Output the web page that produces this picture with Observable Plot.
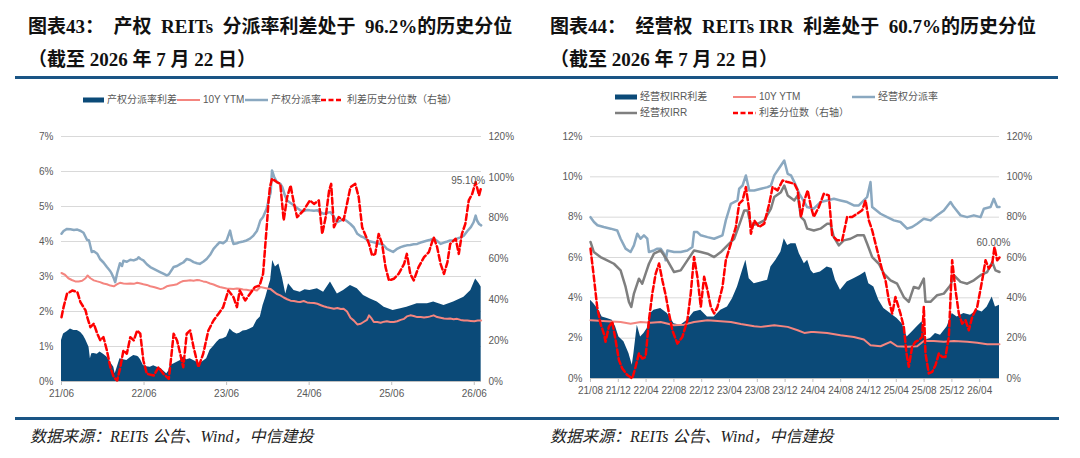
<!DOCTYPE html>
<html>
<head>
<meta charset="utf-8">
<script src="https://cdn.jsdelivr.net/npm/d3@7"></script>
<script src="https://cdn.jsdelivr.net/npm/@observablehq/plot@0.6"></script>
<style>
  html, body { margin: 0; padding: 0; background: #fff; }
  body { width: 1080px; height: 458px; position: relative; overflow: hidden; }
  .abs { position: absolute; white-space: pre; }
  .title { font-family: "Liberation Serif", "Noto Sans CJK SC", serif; font-weight: bold; font-size: 19px; line-height: 22px; color: #111; }
  .rule { position: absolute; height: 3px; background: #1a5585; }
  .src { font-family: "Liberation Serif", "Noto Sans CJK SC", serif; font-style: italic; font-size: 16px; line-height: 20px; color: #222; }
  .lg { font-family: "Liberation Sans", "Noto Sans CJK SC", sans-serif; font-size: 10px; line-height: 12px; color: #595959; }
  .chart { position: absolute; top: 126px; }
</style>
</head>
<body>
<div class="abs title" style="left:28px;top:16px">图表43：  产权  REITs  分派率利差处于  96.2%的历史分位</div>
<div class="abs title" style="left:28px;top:49px">（截至 2026 年 7 月 22 日）</div>
<div class="abs title" style="left:550px;top:16px">图表44：  经营权  REITs IRR  利差处于  60.7%的历史分位</div>
<div class="abs title" style="left:550px;top:49px">（截至 2026 年 7 月 22 日）</div>
<div class="rule" style="left:15px;top:76px;width:1043px"></div>
<div class="rule" style="left:15px;top:417px;width:1044px"></div>
<div class="abs src" style="left:30px;top:427px">数据来源：REITs 公告、Wind，中信建投</div>
<div class="abs src" style="left:550px;top:427px">数据来源：REITs 公告、Wind，中信建投</div>
<div id="legends"></div>
<div id="left" class="chart" style="left:0px"></div>
<div id="right" class="chart" style="left:540px"></div>
<script>
// ---------- DATA (x = months since first tick, value) ----------
// Left chart: 产权 REITs (months since 2021-06)
const leftXTicks = [0, 12, 24, 36, 48, 60];
const leftXLabels = ["21/06", "22/06", "23/06", "24/06", "25/06", "26/06"];
const leftYTicks = [0, 1, 2, 3, 4, 5, 6, 7];
const leftRightTicks = [0, 20, 40, 60, 80, 100, 120];

const leftRate = [[0,4.22],[0.3,4.3],[0.8,4.36],[1.3,4.35],[1.8,4.33],[2.3,4.34],[2.8,4.3],[3.2,4.25],[3.7,4.05],[4.0,4.03],[4.4,3.7],[4.7,3.72],[5.2,3.65],[5.6,3.5],[6.1,3.4],[6.6,3.27],[7.1,3.15],[7.3,3.08],[7.6,2.95],[7.8,2.84],[8.1,3.1],[8.5,3.38],[8.8,3.3],[9.0,3.45],[9.5,3.42],[10.0,3.48],[10.5,3.46],[11.0,3.5],[11.2,3.55],[11.5,3.5],[11.9,3.46],[12.4,3.35],[12.9,3.27],[13.4,3.22],[13.9,3.17],[14.4,3.12],[14.8,3.08],[15.3,3.03],[15.6,3.06],[16.3,3.27],[16.8,3.3],[17.3,3.36],[17.7,3.4],[18.2,3.5],[18.7,3.47],[19.2,3.41],[19.7,3.38],[20.1,3.36],[20.6,3.42],[21.1,3.5],[21.6,3.62],[22.1,3.79],[22.6,3.9],[23.0,3.98],[23.5,3.95],[24.0,4.03],[24.5,4.31],[24.8,4.05],[25.0,3.93],[25.5,3.95],[25.9,3.98],[26.4,4.0],[26.9,4.03],[27.4,4.08],[27.9,4.17],[28.4,4.3],[28.6,4.41],[28.9,4.6],[29.3,4.7],[29.8,4.93],[30.1,5.17],[30.4,5.4],[30.6,6.03],[30.9,5.85],[31.3,5.7],[31.8,5.65],[32.1,5.55],[32.5,5.3],[32.8,5.17],[33.3,5.1],[33.8,5.03],[34.3,4.95],[34.7,4.89],[35.2,4.87],[35.7,4.9],[36.1,4.89],[36.7,4.88],[37.2,4.89],[37.7,4.83],[38.1,4.79],[38.6,4.82],[39.1,4.84],[39.6,4.7],[40.1,4.55],[40.6,4.6],[41.0,4.65],[41.5,4.58],[42.0,4.5],[42.5,4.4],[43.0,4.22],[43.5,4.15],[43.9,4.12],[44.4,4.05],[44.9,4.0],[45.4,3.98],[45.9,3.95],[46.4,3.93],[46.9,3.88],[47.3,3.79],[47.8,3.74],[48.2,3.7],[48.7,3.78],[49.3,3.84],[49.8,3.87],[50.2,3.89],[50.7,3.9],[51.2,3.92],[51.7,3.93],[52.2,3.97],[52.7,4.0],[53.2,4.03],[53.6,4.05],[54.1,4.08],[54.6,4.02],[55.1,3.93],[55.6,3.97],[56.1,4.0],[56.5,4.03],[57.0,4.03],[57.5,4.08],[58.0,4.12],[58.5,4.17],[59.0,4.3],[59.5,4.41],[59.9,4.55],[60.2,4.74],[60.4,4.6],[60.7,4.5],[61.0,4.46]];

const leftYtm = [[0,3.1],[0.5,3.05],[1,2.95],[1.5,2.9],[2,2.86],[2.5,2.86],[3,2.88],[3.5,2.95],[3.8,3.03],[4.2,2.95],[4.7,2.89],[5.2,2.86],[5.6,2.84],[6.1,2.8],[6.6,2.78],[7.1,2.74],[7.6,2.72],[8.1,2.78],[8.5,2.82],[9.0,2.8],[9.5,2.79],[10.0,2.8],[10.5,2.79],[11.0,2.82],[11.5,2.8],[11.9,2.78],[12.4,2.76],[12.9,2.72],[13.4,2.7],[13.9,2.67],[14.4,2.64],[14.8,2.66],[15.3,2.72],[15.8,2.74],[16.3,2.76],[16.8,2.78],[17.3,2.84],[17.7,2.87],[18.2,2.88],[18.7,2.89],[19.2,2.88],[19.7,2.9],[20.1,2.89],[20.6,2.86],[21.1,2.84],[21.6,2.8],[22.1,2.77],[22.6,2.73],[23.0,2.7],[23.5,2.68],[24.0,2.66],[24.5,2.65],[25.0,2.64],[25.5,2.66],[25.9,2.65],[26.4,2.63],[26.9,2.62],[27.4,2.6],[27.9,2.62],[28.4,2.6],[28.9,2.7],[29.4,2.68],[29.9,2.66],[30.4,2.64],[30.9,2.56],[31.3,2.5],[31.8,2.46],[32.3,2.4],[32.8,2.35],[33.3,2.31],[33.8,2.3],[34.3,2.28],[34.7,2.27],[35.2,2.3],[35.7,2.26],[36.1,2.25],[36.7,2.24],[37.2,2.22],[37.7,2.18],[38.1,2.15],[38.6,2.12],[39.1,2.1],[39.6,2.08],[40.1,2.1],[40.6,2.07],[41.0,2.08],[41.5,2.0],[42.0,1.82],[42.5,1.74],[43.0,1.63],[43.5,1.65],[43.9,1.7],[44.4,1.76],[44.7,1.89],[45.0,1.82],[45.4,1.7],[45.9,1.7],[46.4,1.68],[46.9,1.71],[47.3,1.72],[47.8,1.7],[48.3,1.7],[48.8,1.72],[49.3,1.76],[49.8,1.79],[50.2,1.86],[50.7,1.89],[51.2,1.87],[51.7,1.84],[52.2,1.84],[52.7,1.83],[53.2,1.84],[53.6,1.86],[54.1,1.89],[54.6,1.84],[55.1,1.82],[55.6,1.8],[56.1,1.79],[56.5,1.8],[57.0,1.78],[57.5,1.79],[58.0,1.76],[58.5,1.74],[59.0,1.74],[59.5,1.73],[60.0,1.72],[60.5,1.74],[61.0,1.74]];

const leftSpread = [[0,1.17],[0.3,1.36],[0.8,1.42],[1.3,1.5],[1.8,1.46],[2.3,1.46],[2.8,1.4],[3.2,1.31],[3.5,1.2],[4.0,0.98],[4.2,0.65],[4.4,0.79],[4.7,0.8],[5.2,0.78],[5.6,0.84],[6.1,0.78],[6.6,0.7],[7.1,0.55],[7.6,0.41],[7.8,0.22],[8.1,0.4],[8.5,0.65],[9.0,0.62],[9.5,0.6],[10.0,0.68],[10.5,0.74],[11.0,0.72],[11.2,0.7],[11.5,0.62],[11.9,0.46],[12.4,0.42],[12.9,0.41],[13.4,0.45],[13.9,0.41],[14.4,0.38],[14.8,0.31],[15.3,0.22],[15.6,0.3],[15.8,0.46],[16.3,0.5],[16.8,0.55],[17.3,0.6],[17.7,0.7],[18.2,0.62],[18.7,0.65],[19.2,0.6],[19.7,0.55],[20.1,0.5],[20.6,0.58],[21.1,0.65],[21.6,0.89],[22.1,1.0],[22.6,1.12],[23.0,1.2],[23.5,1.22],[24.0,1.27],[24.5,1.5],[25.0,1.41],[25.5,1.36],[25.9,1.38],[26.4,1.44],[26.9,1.46],[27.4,1.5],[27.9,1.55],[28.4,1.74],[28.9,1.84],[29.3,2.17],[29.7,2.41],[30.1,2.7],[30.4,2.89],[30.7,3.46],[31.1,3.27],[31.6,3.36],[32.1,2.98],[32.6,2.5],[33.0,2.79],[33.8,2.6],[34.7,2.55],[35.4,2.62],[36.1,2.6],[37.2,2.65],[38.1,2.55],[39.1,2.84],[40.1,2.5],[41.0,2.6],[42.0,2.74],[43.0,2.65],[43.9,2.46],[44.9,2.36],[45.9,2.27],[46.9,2.12],[48.2,2.03],[49.3,2.08],[50.2,2.12],[51.7,2.22],[53.2,2.22],[54.1,2.27],[55.6,2.17],[57.0,2.27],[58.5,2.41],[59.5,2.6],[60.2,2.93],[60.7,2.8],[61.0,2.7]];

// right-axis values (%)
const leftPct = [[0,31.5],[0.3,36.4],[0.8,43],[1.3,44],[1.55,44.6],[2.3,43.8],[2.75,38.9],[3.5,34.8],[3.7,32],[4.2,26.6],[4.7,28.3],[5.2,23.4],[5.65,20.1],[6.1,21.7],[6.6,15.2],[7.1,7],[7.6,2.1],[8.1,0.5],[8.55,7],[9.0,15.2],[9.5,13.6],[10.0,21.7],[10.5,20.1],[11.0,25],[11.45,23.4],[11.9,10.3],[12.4,3.8],[13.4,2.9],[14.1,7],[14.8,3.8],[15.6,1.3],[16.0,13.6],[16.3,23.4],[16.8,20.1],[17.25,13.6],[17.7,7],[18.2,23.4],[18.7,25],[19.2,16.8],[19.9,7],[20.6,13.6],[21.35,25],[22.1,29.9],[22.8,33.1],[23.5,36.4],[24.25,44.6],[25.0,41.3],[25.5,36.4],[25.9,44.6],[26.7,39.7],[27.4,43],[28.1,46.2],[28.8,47],[29.3,52.7],[29.6,65.8],[29.9,78.9],[30.1,88.7],[30.3,95.2],[30.6,99.3],[31.3,97.7],[31.8,96.8],[32.3,78.9],[32.8,90.3],[33.3,96],[33.8,87],[34.25,80.5],[34.7,82.1],[35.2,83.8],[36.1,88.7],[36.7,87],[37.4,88.7],[37.9,72.3],[38.4,80.5],[38.9,93.6],[39.2,96.8],[39.6,75.6],[40.3,80.5],[41.0,78.9],[41.5,87],[42.0,95.2],[42.7,96.8],[43.2,90.3],[43.7,75.6],[44.2,71.5],[44.7,67.4],[45.15,61.7],[45.6,62.5],[46.1,72.3],[46.6,67.4],[47.1,56],[47.6,49.5],[48.3,50.3],[49.0,52.7],[49.8,57.6],[50.2,62.5],[50.7,52.7],[51.2,49.5],[51.9,56],[52.7,60.9],[53.4,63.4],[54.1,70.7],[54.6,65.8],[55.1,57.6],[55.6,52.7],[56.1,58.5],[56.5,67.4],[57.3,69.9],[57.75,62.5],[58.2,72.3],[58.7,77.2],[59.2,88.7],[59.7,91.9],[60.2,97.7],[60.7,91.1],[61.0,95.1]];
const leftPctLabel = "95.10%";

// Right chart: 经营权 REITs (months since 2021-08)
const rightXTicks = [0, 4, 8, 12, 16, 20, 24, 28, 32, 36, 40, 44, 48, 52, 56];
const rightXLabels = ["21/08","21/12","22/04","22/08","22/12","23/04","23/08","23/12","24/04","24/08","24/12","25/04","25/08","25/12","26/04"];
const rightYTicks = [0, 2, 4, 6, 8, 10, 12];
const rightRightTicks = [0, 20, 40, 60, 80, 100, 120];

const rightRate = [[0,8.0],[0.5,7.76],[1.0,7.6],[1.9,7.51],[2.9,7.43],[3.85,7.34],[4.33,6.93],[5.05,6.44],[5.77,6.27],[6.25,6.6],[6.73,7.18],[7.21,6.93],[7.69,7.1],[8.17,6.93],[8.41,6.27],[9.13,6.35],[9.62,6.44],[10.1,6.44],[10.58,6.19],[10.82,5.86],[11.06,6.35],[12.02,6.27],[12.98,6.27],[13.94,6.35],[14.66,6.52],[14.9,7.26],[15.38,7.26],[15.87,7.1],[16.83,7.01],[17.79,6.93],[18.99,7.1],[19.47,7.84],[20.19,8.66],[21.15,8.83],[21.39,9.41],[21.88,9.57],[22.36,10.07],[22.84,9.32],[23.56,9.32],[24.52,9.41],[25.48,9.49],[25.96,9.57],[26.44,10.07],[27.4,10.56],[27.88,10.81],[28.37,10.15],[28.85,10.07],[29.33,9.74],[30.05,9.16],[30.77,8.75],[31.17,8.5],[32.13,8.42],[33.09,8.75],[34.05,8.83],[35.01,8.91],[35.97,8.83],[36.93,8.75],[37.89,8.58],[38.61,8.58],[39.33,8.83],[39.81,9.0],[40.29,9.74],[40.53,8.5],[41.73,8.17],[42.69,8.0],[43.65,7.84],[44.6,7.76],[45.56,7.43],[46.28,7.51],[47.0,7.67],[47.96,7.92],[48.92,7.84],[49.88,8.09],[50.84,8.33],[51.8,8.75],[52.28,8.5],[53.24,8.09],[54.2,8.0],[55.16,8.09],[56.12,8.0],[56.6,8.42],[57.56,8.5],[58.03,8.91],[58.51,8.5],[58.85,8.5]];

const rightIrr = [[0,6.77],[0.48,6.27],[1.44,6.02],[2.4,5.86],[3.37,5.69],[4.33,5.36],[5.05,4.54],[5.53,3.8],[5.87,3.55],[6.25,4.21],[6.97,4.95],[7.45,4.7],[7.93,5.2],[8.41,5.69],[9.13,6.19],[10.1,6.35],[11.06,5.86],[12.02,5.28],[12.98,5.36],[13.94,5.86],[14.9,6.35],[15.87,6.27],[16.83,6.19],[17.79,6.02],[18.75,6.27],[19.71,6.6],[20.67,6.93],[21.63,7.84],[22.12,8.33],[22.6,8.33],[23.08,7.59],[24.04,7.67],[25.0,7.84],[25.96,8.42],[26.44,9.0],[27.4,9.24],[27.88,9.57],[28.37,9.08],[29.33,8.83],[29.81,9.08],[30.29,8.0],[30.77,7.84],[31.17,7.43],[32.13,7.34],[33.09,7.43],[34.05,7.67],[34.53,7.67],[35.01,7.01],[35.73,6.6],[36.45,6.85],[37.41,6.93],[38.37,7.1],[39.33,7.1],[39.81,6.68],[40.53,6.02],[41.49,5.69],[42.21,5.2],[43.17,4.87],[44.12,4.7],[45.08,4.04],[45.8,3.8],[46.52,4.54],[47.24,4.46],[47.96,4.95],[48.2,3.8],[48.92,3.8],[49.88,4.13],[50.84,4.21],[51.8,4.62],[52.28,5.12],[53.24,4.79],[54.2,4.7],[55.16,4.87],[56.12,5.12],[57.08,5.28],[57.8,5.78],[58.27,5.36],[58.85,5.28]];

const rightYtm = [[0,2.89],[2.4,2.84],[4.33,2.8],[5.77,2.72],[7.21,2.8],[8.65,2.77],[10.1,2.8],[12.02,2.64],[13.46,2.67],[14.9,2.8],[16.83,2.89],[18.75,2.84],[20.19,2.8],[21.63,2.7],[23.56,2.59],[24.52,2.56],[26.44,2.64],[28.37,2.56],[29.81,2.39],[30.77,2.26],[31.73,2.3],[32.13,2.31],[34.05,2.26],[35.97,2.15],[37.89,2.06],[39.33,1.93],[40.29,1.65],[41.73,1.6],[43.17,1.82],[44.12,1.6],[45.56,1.57],[47.0,1.6],[47.96,1.86],[49.4,1.86],[50.84,1.82],[52.28,1.86],[54.2,1.82],[55.64,1.77],[57.08,1.7],[58.85,1.7]];

const rightSpread = [[0,3.88],[0.48,3.71],[1.2,3.38],[1.68,3.05],[2.4,2.97],[3.13,2.89],[3.61,2.56],[4.09,2.06],[4.81,1.82],[5.53,1.24],[6.01,0.66],[6.25,1.24],[6.73,2.64],[7.21,2.06],[7.69,2.23],[8.17,2.48],[8.65,3.22],[9.13,3.38],[10.1,3.47],[11.06,3.22],[12.02,2.72],[12.98,2.64],[13.94,2.89],[14.9,3.3],[15.87,3.38],[16.83,3.05],[17.79,3.05],[18.75,3.38],[19.71,3.55],[20.43,3.96],[21.15,4.54],[21.88,5.36],[22.36,5.86],[22.84,4.95],[23.56,4.7],[24.52,4.79],[25.48,4.87],[25.96,5.53],[26.68,5.86],[27.4,6.27],[27.88,6.93],[28.37,6.6],[28.85,6.68],[29.57,6.68],[30.05,6.19],[30.77,5.69],[31.25,5.86],[31.73,5.36],[32.13,5.2],[33.09,5.28],[34.05,5.53],[34.77,5.45],[35.25,4.87],[35.97,4.37],[36.93,4.79],[37.89,4.95],[38.85,5.12],[39.57,5.28],[40.05,4.7],[40.77,4.54],[41.49,3.88],[42.21,3.47],[43.17,3.22],[44.12,2.97],[44.84,2.72],[45.56,2.06],[46.28,2.31],[47.0,2.56],[47.72,2.81],[48.2,1.9],[48.92,1.98],[49.64,2.23],[50.36,2.15],[51.32,2.56],[52.04,3.22],[52.76,3.05],[53.72,3.22],[54.68,3.14],[55.64,3.38],[56.36,3.3],[57.08,3.55],[57.8,4.04],[58.27,3.55],[58.85,3.63]];

const rightPct = [[0,64.4],[0.48,50.4],[0.96,35.5],[1.44,27.2],[1.92,22.3],[2.16,18.2],[2.64,25.6],[3.13,28.1],[3.61,19],[4.09,9.1],[4.57,5],[5.29,1.7],[6.01,0],[6.49,5.8],[6.97,12.4],[7.45,9.9],[7.93,10.7],[8.41,28.9],[8.89,42.1],[9.38,52],[9.86,57],[10.34,48.7],[10.82,41.3],[11.3,32.2],[11.78,23.9],[12.5,17.3],[13.22,20.6],[13.94,28.9],[14.42,42.1],[14.9,60.3],[15.38,50.4],[15.87,35.5],[16.35,50.4],[16.83,43.8],[17.31,35.5],[17.79,32.2],[18.27,35.5],[18.99,45.4],[19.47,58.6],[20.19,66.9],[20.91,75.1],[21.39,86.7],[21.88,88.3],[22.36,94.9],[22.84,83.4],[23.08,71.8],[23.56,78.4],[24.28,75.1],[25.0,76.8],[25.72,86.7],[26.2,94.9],[26.92,93.3],[27.64,98.2],[28.37,97.4],[29.33,96.6],[29.81,93.3],[30.29,80.1],[30.77,88.3],[31.25,93.3],[31.73,85],[32.13,80.1],[32.85,85],[33.57,91.6],[34.29,90.8],[34.77,71],[35.49,68.5],[36.21,68.5],[36.93,80.1],[37.65,80.1],[38.37,81.7],[39.09,83.4],[39.57,88.3],[40.05,78.4],[40.53,73.5],[41.25,63.6],[41.97,53.7],[42.45,48.7],[42.93,38.8],[43.41,32.2],[43.88,40.4],[44.6,32.2],[45.08,25.6],[45.47,12.4],[45.8,5.8],[46.28,15.7],[46.76,18.2],[47.24,19],[47.72,20.6],[47.96,35.5],[48.2,12.4],[48.68,2.5],[49.16,3.3],[49.64,6.6],[50.12,12.4],[50.6,10.7],[51.08,10.7],[51.56,20.6],[52.04,58.6],[52.52,43.8],[53.0,32.2],[53.48,27.2],[53.96,28.9],[54.44,23.9],[54.92,30.5],[55.64,35.5],[56.36,48.7],[56.84,58.6],[57.32,54.5],[57.8,57],[58.13,65.2],[58.51,58.6],[58.85,60.0]];
const rightPctLabel = "60.00%";

// ---------- STYLE ----------
const C = { navy: "#0b4a78", pink: "#f4857f", blue: "#8aa8c0", gray: "#7f7f7f", red: "#ff0000", grid: "#d9d9d9", axis: "#bfbfbf", text: "#595959" };

// ---------- LEGENDS ----------
const legendItems = [
  { x: 83, y: 100, w: 21, kind: "rect", color: C.navy, label: "产权分派率利差", tx: 107 },
  { x: 177, y: 100, w: 23, kind: "line", color: C.pink, sw: 2, label: "10Y YTM", tx: 203 },
  { x: 245, y: 100, w: 23, kind: "line", color: C.blue, sw: 2.5, label: "产权分派率", tx: 271 },
  { x: 321, y: 100, w: 22, kind: "dash", color: C.red, sw: 2.5, label: "利差历史分位数（右轴）", tx: 347 },
  { x: 615, y: 97, w: 22, kind: "rect", color: C.navy, label: "经营权IRR利差", tx: 640 },
  { x: 733, y: 97, w: 23, kind: "line", color: C.pink, sw: 2, label: "10Y YTM", tx: 759 },
  { x: 852, y: 97, w: 23, kind: "line", color: C.blue, sw: 2.5, label: "经营权分派率", tx: 878 },
  { x: 615, y: 113, w: 22, kind: "line", color: C.gray, sw: 2.5, label: "经营权IRR", tx: 640 },
  { x: 733, y: 113, w: 23, kind: "dash", color: C.red, sw: 2.5, label: "利差分位数（右轴）", tx: 759 }
];
const lg = document.getElementById("legends");
for (const it of legendItems) {
  const s = document.createElementNS("http://www.w3.org/2000/svg", "svg");
  s.setAttribute("width", it.w); s.setAttribute("height", 8);
  s.style.position = "absolute"; s.style.left = it.x + "px"; s.style.top = (it.y - 4) + "px";
  if (it.kind === "rect") {
    s.innerHTML = `<rect x="0" y="1.5" width="${it.w}" height="5" fill="${it.color}"/>`;
  } else {
    s.innerHTML = `<line x1="0" x2="${it.w}" y1="4" y2="4" stroke="${it.color}" stroke-width="${it.sw}" ${it.kind === "dash" ? 'stroke-dasharray="5,2.5"' : ""}/>`;
  }
  lg.appendChild(s);
  const t = document.createElement("div");
  t.className = "abs lg"; t.textContent = it.label;
  t.style.left = it.tx + "px"; t.style.top = (it.y - 6.5) + "px";
  lg.appendChild(t);
}

// ---------- CHARTS ----------
const toRows = (arr) => arr.map(([m, v]) => ({ m, v }));

function chart({ width, height, margins, xDomain, xTicks, xLabels, yTicks, rTicks, yMax, rMax,
                 spread, ytm, rate, irr, pct, pctLabel, labelDx, labelDy }) {
  const k = yMax / rMax; // right axis -> left axis
  const pctRows = toRows(pct).map(d => ({ m: d.m, v: d.v * k }));
  const last = pctRows[pctRows.length - 1];
  const marks = [
    Plot.ruleY(yTicks, { stroke: C.grid, strokeWidth: 1 }),
    Plot.areaY(toRows(spread), { x: "m", y: "v", fill: C.navy }),
    Plot.ruleY([0], { stroke: C.axis, strokeWidth: 1 }),
    Plot.line(toRows(ytm), { x: "m", y: "v", stroke: C.pink, strokeWidth: 2 }),
    Plot.line(toRows(rate), { x: "m", y: "v", stroke: C.blue, strokeWidth: 2.5 })
  ];
  if (irr) marks.push(Plot.line(toRows(irr), { x: "m", y: "v", stroke: C.gray, strokeWidth: 2.5 }));
  marks.push(
    Plot.line(pctRows, { x: "m", y: "v", stroke: C.red, strokeWidth: 2.5, strokeDasharray: "6,3" }),
    Plot.text([last], { x: "m", y: "v", text: () => pctLabel, dx: labelDx, dy: labelDy, fill: C.text, fontSize: 10 }),
    Plot.axisY(yTicks, { anchor: "left", label: null, tickSize: 0, tickPadding: 8, tickFormat: d => d + "%", fill: C.text }),
    Plot.axisY(rTicks.map(v => v * k), { anchor: "right", label: null, tickSize: 0, tickPadding: 7, tickFormat: d => Math.round(d / k) + "%", fill: C.text }),
    Plot.axisX(xTicks, { label: null, tickSize: 4, tickPadding: 4, stroke: C.axis, fill: C.text,
                         tickFormat: d => xLabels[xTicks.indexOf(d)] })
  );
  return Plot.plot({
    width, height,
    marginLeft: margins[0], marginRight: margins[1], marginTop: margins[2], marginBottom: margins[3],
    x: { type: "linear", domain: xDomain, label: null },
    y: { domain: [0, yMax], label: null },
    style: { fontFamily: "'Liberation Sans', Arial, sans-serif", fontSize: "10px", color: C.text, background: "transparent" },
    marks
  });
}

document.getElementById("left").appendChild(chart({
  width: 530, height: 290, margins: [61, 49, 10, 35],
  xDomain: [0, 61.05], xTicks: leftXTicks, xLabels: leftXLabels,
  yTicks: leftYTicks, rTicks: leftRightTicks, yMax: 7, rMax: 120,
  spread: leftSpread, ytm: leftYtm, rate: leftRate, irr: null, pct: leftPct,
  pctLabel: leftPctLabel, labelDx: -13, labelDy: -7
}));

document.getElementById("right").appendChild(chart({
  width: 540, height: 290, margins: [50, 81, 10, 38],
  xDomain: [0, 58.85], xTicks: rightXTicks, xLabels: rightXLabels,
  yTicks: rightYTicks, rTicks: rightRightTicks, yMax: 12, rMax: 120,
  spread: rightSpread, ytm: rightYtm, rate: rightRate, irr: rightIrr, pct: rightPct,
  pctLabel: rightPctLabel, labelDx: -6, labelDy: -15
}));
</script>
</body>
</html>
